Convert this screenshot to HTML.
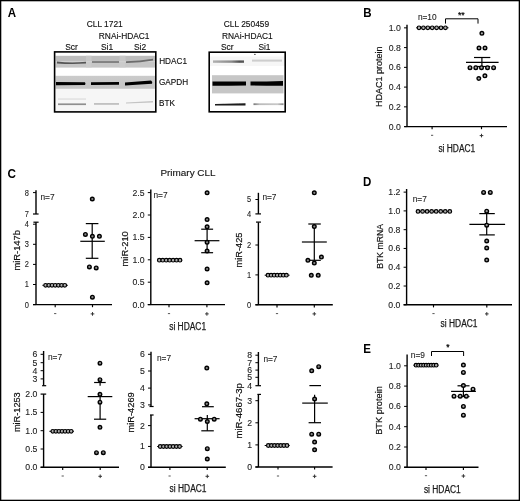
<!DOCTYPE html>
<html><head><meta charset="utf-8"><style>
html,body{margin:0;padding:0;background:#fff;width:520px;height:501px;overflow:hidden;font-family:"Liberation Sans", sans-serif;}
svg{display:block;filter:blur(0.3px);}
</style></head><body>
<svg width="520" height="501" viewBox="0 0 520 501" font-family='"Liberation Sans", sans-serif'>
<rect x="0" y="0" width="520" height="501" fill="#fff"/>
<text transform="translate(7.7,17.4) scale(0.93,1)" x="0" y="0" font-size="12.4" text-anchor="start" font-weight="bold" fill="#000" >A</text>
<text transform="translate(363.3,17.3) scale(0.93,1)" x="0" y="0" font-size="12.4" text-anchor="start" font-weight="bold" fill="#000" >B</text>
<text transform="translate(7.6,178.1) scale(0.93,1)" x="0" y="0" font-size="12.6" text-anchor="start" font-weight="bold" fill="#000" >C</text>
<text transform="translate(363.0,186.4) scale(0.93,1)" x="0" y="0" font-size="12.4" text-anchor="start" font-weight="bold" fill="#000" >D</text>
<text transform="translate(363.3,353.3) scale(0.93,1)" x="0" y="0" font-size="12.4" text-anchor="start" font-weight="bold" fill="#000" >E</text>
<text x="86.7" y="26.7" font-size="8.4" text-anchor="start" font-weight="normal" fill="#111" stroke="#111" stroke-width="0.13" >CLL 1721</text>
<text x="98.8" y="38.6" font-size="8.4" text-anchor="start" font-weight="normal" fill="#111" stroke="#111" stroke-width="0.13" >RNAi-HDAC1</text>
<text x="65.2" y="50.4" font-size="8.4" text-anchor="start" font-weight="normal" fill="#111" stroke="#111" stroke-width="0.13" >Scr</text>
<text x="101" y="50.4" font-size="8.4" text-anchor="start" font-weight="normal" fill="#111" stroke="#111" stroke-width="0.13" >Si1</text>
<text x="134" y="50.4" font-size="8.4" text-anchor="start" font-weight="normal" fill="#111" stroke="#111" stroke-width="0.13" >Si2</text>
<defs><linearGradient id="g1" x1="0" y1="0" x2="0" y2="1"><stop offset="0" stop-color="#ececec"/><stop offset="0.15" stop-color="#b2b2b2"/><stop offset="0.5" stop-color="#b8b8b8"/><stop offset="0.6" stop-color="#c4c4c4"/><stop offset="1" stop-color="#c8c8c8"/></linearGradient><linearGradient id="g2" x1="0" y1="0" x2="0" y2="1"><stop offset="0" stop-color="#cbcbcb"/><stop offset="1" stop-color="#c4c4c4"/></linearGradient><filter id="bl" x="-10%" y="-50%" width="120%" height="200%"><feGaussianBlur stdDeviation="0.45"/></filter></defs>
<rect x="55.5" y="55.8" width="99.5" height="5.8" fill="#bdbdbd"/>
<rect x="55.5" y="61.6" width="99.5" height="6" fill="#c6c6c6"/>
<rect x="86" y="55.5" width="5.5" height="12.3" fill="#cfcfcf" opacity="0.55"/>
<rect x="119.5" y="55.5" width="6" height="12.3" fill="#cfcfcf" opacity="0.55"/>
<rect x="55.5" y="75.8" width="99.5" height="13" fill="url(#g2)"/>
<rect x="55.5" y="89" width="99.5" height="22" fill="#f6f6f6"/>
<g filter="url(#bl)">
<path d="M57,61.6 Q71,63.2 86,61.8 L86,63.6 Q71,64.6 57,63.4 Z" fill="#555"/>
<path d="M92,61.2 L119,61.2 L119,62.8 L92,62.8 Z" fill="#707070"/>
<path d="M126,61.2 Q140,61.2 153,58.8 L153,60.6 Q140,63 126,62.9 Z" fill="#6c6c6c"/>
<path d="M56,82 L85,82.2 Q86,83.6 85,85 L56,85.2 Z" fill="#050505"/>
<path d="M91,82.3 L119,82 L119,84.8 L91,85 Z" fill="#050505"/>
<path d="M125,82.6 L151,80.6 Q153,82.2 152,83.8 L125,85.4 Z" fill="#050505"/>
<rect x="58" y="103.4" width="28" height="1.7" fill="#8f8f8f"/>
<rect x="58" y="98.3" width="28" height="1.5" fill="#e2e2e2"/>
<rect x="94" y="103.2" width="25" height="1.5" fill="#b5b5b5"/>
<path d="M126,102.4 L153,101 L153,102.4 L126,103.6 Z" fill="#c4c4c4"/>
</g>
<rect x="54.6" y="51.9" width="101.2" height="60" fill="none" stroke="#000" stroke-width="1.6"/>
<text x="159.2" y="63.9" font-size="8.2" text-anchor="start" font-weight="normal" fill="#111" stroke="#111" stroke-width="0.13" >HDAC1</text>
<text x="159.0" y="84.5" font-size="8.2" text-anchor="start" font-weight="normal" fill="#111" stroke="#111" stroke-width="0.13" >GAPDH</text>
<text x="159.0" y="106" font-size="8.2" text-anchor="start" font-weight="normal" fill="#111" stroke="#111" stroke-width="0.13" >BTK</text>
<text x="223.8" y="26.5" font-size="8.4" text-anchor="start" font-weight="normal" fill="#111" stroke="#111" stroke-width="0.13" >CLL 250459</text>
<text x="222" y="38.7" font-size="8.4" text-anchor="start" font-weight="normal" fill="#111" stroke="#111" stroke-width="0.13" >RNAi-HDAC1</text>
<text x="221" y="50.4" font-size="8.4" text-anchor="start" font-weight="normal" fill="#111" stroke="#111" stroke-width="0.13" >Scr</text>
<text x="258.4" y="50.4" font-size="8.4" text-anchor="start" font-weight="normal" fill="#111" stroke="#111" stroke-width="0.13" >Si1</text>
<rect x="210" y="56.5" width="75" height="9.5" fill="#f6f6f6"/>
<rect x="212" y="75.2" width="71.5" height="18.2" fill="#c6c6c6"/>
<defs><linearGradient id="h2" x1="0" y1="0" x2="1" y2="0"><stop offset="0" stop-color="#b0b0b0"/><stop offset="0.6" stop-color="#8a8a8a"/><stop offset="0.85" stop-color="#505050"/><stop offset="1" stop-color="#5a5a5a"/></linearGradient><linearGradient id="b2" x1="0" y1="0" x2="1" y2="0"><stop offset="0" stop-color="#777"/><stop offset="0.2" stop-color="#bbb"/><stop offset="0.8" stop-color="#c8c8c8"/><stop offset="1" stop-color="#888"/></linearGradient></defs>
<g filter="url(#bl)">
<rect x="213" y="60.4" width="31" height="2.4" fill="url(#h2)"/>
<rect x="252" y="59.6" width="30" height="2" fill="#cdcdcd"/>
<path d="M212.5,81.4 Q229,81.6 246,81.6 L246,85.6 Q229,85.8 212.5,85.8 Z" fill="#050505"/>
<path d="M250.5,81.6 Q266,81.5 283,80.9 L283,85.7 Q266,85.7 250.5,85.5 Z" fill="#050505"/>
<path d="M215,104 L245.5,103.2 L245.5,105.6 L215,105.4 Z" fill="#1a1a1a"/>
<rect x="253.5" y="103.3" width="30" height="1.8" fill="url(#b2)"/>
</g>
<rect x="209.2" y="52.2" width="76" height="59.6" fill="none" stroke="#000" stroke-width="1.6"/>
<circle cx="254.9" cy="54.4" r="0.7" fill="#333"/>
<line x1="407" y1="24.7" x2="407" y2="126.6" stroke="#000" stroke-width="1.4"/>
<line x1="404.0" y1="27.849999999999994" x2="407" y2="27.849999999999994" stroke="#000" stroke-width="1.0"/>
<text transform="translate(400.8,30.799999999999994) scale(1.05,1)" x="0" y="0" font-size="8.3" text-anchor="end" font-weight="normal" fill="#222" stroke="#222" stroke-width="0.1" >1.0</text>
<line x1="404.0" y1="47.599999999999994" x2="407" y2="47.599999999999994" stroke="#000" stroke-width="1.0"/>
<text transform="translate(400.8,50.55) scale(1.05,1)" x="0" y="0" font-size="8.3" text-anchor="end" font-weight="normal" fill="#222" stroke="#222" stroke-width="0.1" >0.8</text>
<line x1="404.0" y1="67.35" x2="407" y2="67.35" stroke="#000" stroke-width="1.0"/>
<text transform="translate(400.8,70.3) scale(1.05,1)" x="0" y="0" font-size="8.3" text-anchor="end" font-weight="normal" fill="#222" stroke="#222" stroke-width="0.1" >0.6</text>
<line x1="404.0" y1="87.1" x2="407" y2="87.1" stroke="#000" stroke-width="1.0"/>
<text transform="translate(400.8,90.05) scale(1.05,1)" x="0" y="0" font-size="8.3" text-anchor="end" font-weight="normal" fill="#222" stroke="#222" stroke-width="0.1" >0.4</text>
<line x1="404.0" y1="106.85" x2="407" y2="106.85" stroke="#000" stroke-width="1.0"/>
<text transform="translate(400.8,109.8) scale(1.05,1)" x="0" y="0" font-size="8.3" text-anchor="end" font-weight="normal" fill="#222" stroke="#222" stroke-width="0.1" >0.2</text>
<line x1="404.0" y1="126.6" x2="407" y2="126.6" stroke="#000" stroke-width="1.0"/>
<text transform="translate(400.8,129.54999999999998) scale(1.05,1)" x="0" y="0" font-size="8.3" text-anchor="end" font-weight="normal" fill="#222" stroke="#222" stroke-width="0.1" >0.0</text>
<line x1="404.3" y1="126.6" x2="507" y2="126.6" stroke="#000" stroke-width="1.4"/>
<line x1="432.1" y1="126.6" x2="432.1" y2="129.2" stroke="#000" stroke-width="1.15"/>
<line x1="481.5" y1="126.6" x2="481.5" y2="129.2" stroke="#000" stroke-width="1.15"/>
<line x1="431.0" y1="135.3" x2="433.20000000000005" y2="135.3" stroke="#555" stroke-width="1.0"/>
<line x1="479.7" y1="135.60000000000002" x2="483.3" y2="135.60000000000002" stroke="#333" stroke-width="1.0"/>
<line x1="481.5" y1="133.8" x2="481.5" y2="137.4" stroke="#333" stroke-width="1.0"/>
<text x="438.4" y="152" font-size="10" text-anchor="start" font-weight="normal" fill="#1a1a1a" stroke="#1a1a1a" stroke-width="0.25" textLength="36.9" lengthAdjust="spacingAndGlyphs">si HDAC1</text>
<text transform="translate(382.1,76.7) rotate(-90)" x="0" y="0" font-size="9.5" text-anchor="middle" fill="#111" stroke="#111" stroke-width="0.2" textLength="60.6" lengthAdjust="spacingAndGlyphs">HDAC1 protein</text>
<text x="417.9" y="20.4" font-size="8.3" text-anchor="start" font-weight="normal" fill="#222" stroke="#222" stroke-width="0.1" >n=10</text>
<polyline points="445.5,23.6 445.5,18.8 478,18.8 478,23.6" fill="none" stroke="#000" stroke-width="1"/>
<text x="457.9" y="17.8" font-size="8.8" text-anchor="start" font-weight="normal" fill="#000" stroke="#000" stroke-width="0.2" >**</text>
<line x1="416.2" y1="27.8" x2="448.5" y2="27.8" stroke="#000" stroke-width="1.0"/>
<circle cx="419.0" cy="27.8" r="1.8" fill="#b0b0b0" stroke="#000" stroke-width="1.2"/>
<circle cx="423.4" cy="27.8" r="1.8" fill="#b0b0b0" stroke="#000" stroke-width="1.2"/>
<circle cx="427.8" cy="27.8" r="1.8" fill="#b0b0b0" stroke="#000" stroke-width="1.2"/>
<circle cx="432.2" cy="27.8" r="1.8" fill="#b0b0b0" stroke="#000" stroke-width="1.2"/>
<circle cx="436.59999999999997" cy="27.8" r="1.8" fill="#b0b0b0" stroke="#000" stroke-width="1.2"/>
<circle cx="441.0" cy="27.8" r="1.8" fill="#b0b0b0" stroke="#000" stroke-width="1.2"/>
<circle cx="445.4" cy="27.8" r="1.8" fill="#b0b0b0" stroke="#000" stroke-width="1.2"/>
<line x1="481.9" y1="57.5" x2="481.9" y2="66.5" stroke="#000" stroke-width="1.2"/>
<line x1="466" y1="62.4" x2="498.6" y2="62.4" stroke="#000" stroke-width="1.2"/>
<line x1="474" y1="57.5" x2="490.3" y2="57.5" stroke="#000" stroke-width="1.2"/>
<line x1="474" y1="66.5" x2="490.3" y2="66.5" stroke="#000" stroke-width="1.2"/>
<circle cx="481.9" cy="33.3" r="1.8" fill="#aaa" stroke="#000" stroke-width="1.4"/>
<circle cx="479" cy="48" r="1.8" fill="#aaa" stroke="#000" stroke-width="1.4"/>
<circle cx="485" cy="48" r="1.8" fill="#aaa" stroke="#000" stroke-width="1.4"/>
<circle cx="470" cy="67.7" r="1.8" fill="#aaa" stroke="#000" stroke-width="1.4"/>
<circle cx="475.8" cy="67.7" r="1.8" fill="#aaa" stroke="#000" stroke-width="1.4"/>
<circle cx="481.5" cy="67.7" r="1.8" fill="#aaa" stroke="#000" stroke-width="1.4"/>
<circle cx="487.5" cy="67.7" r="1.8" fill="#aaa" stroke="#000" stroke-width="1.4"/>
<circle cx="493.6" cy="67.7" r="1.8" fill="#aaa" stroke="#000" stroke-width="1.4"/>
<circle cx="478.8" cy="78.5" r="1.8" fill="#aaa" stroke="#000" stroke-width="1.4"/>
<circle cx="484.9" cy="75.8" r="1.8" fill="#aaa" stroke="#000" stroke-width="1.4"/>
<text x="160.4" y="175.9" font-size="9.5" text-anchor="start" font-weight="normal" fill="#111" stroke="#111" stroke-width="0.12" textLength="55.2" lengthAdjust="spacingAndGlyphs">Primary CLL</text>
<line x1="36" y1="190.2" x2="36" y2="214" stroke="#000" stroke-width="1.4"/>
<line x1="36" y1="222.2" x2="36" y2="304.6" stroke="#000" stroke-width="1.4"/>
<line x1="33.0" y1="192.6" x2="36" y2="192.6" stroke="#000" stroke-width="1.0"/>
<text transform="translate(28.8,195.54999999999998) scale(0.9,1)" x="0" y="0" font-size="8.3" text-anchor="end" font-weight="normal" fill="#222" stroke="#222" stroke-width="0.1" >8</text>
<line x1="33.0" y1="214" x2="38.6" y2="214" stroke="#000" stroke-width="1.2"/>
<text transform="translate(28.8,216.95) scale(0.9,1)" x="0" y="0" font-size="8.3" text-anchor="end" font-weight="normal" fill="#222" stroke="#222" stroke-width="0.1" >7</text>
<line x1="33.4" y1="222.2" x2="38.6" y2="222.2" stroke="#000" stroke-width="1.2"/>
<line x1="33.0" y1="224.20000000000002" x2="36" y2="224.20000000000002" stroke="#000" stroke-width="1.0"/>
<text transform="translate(28.8,227.15) scale(0.9,1)" x="0" y="0" font-size="8.3" text-anchor="end" font-weight="normal" fill="#222" stroke="#222" stroke-width="0.1" >4</text>
<line x1="33.0" y1="244.3" x2="36" y2="244.3" stroke="#000" stroke-width="1.0"/>
<text transform="translate(28.8,247.25) scale(0.9,1)" x="0" y="0" font-size="8.3" text-anchor="end" font-weight="normal" fill="#222" stroke="#222" stroke-width="0.1" >3</text>
<line x1="33.0" y1="264.40000000000003" x2="36" y2="264.40000000000003" stroke="#000" stroke-width="1.0"/>
<text transform="translate(28.8,267.35) scale(0.9,1)" x="0" y="0" font-size="8.3" text-anchor="end" font-weight="normal" fill="#222" stroke="#222" stroke-width="0.1" >2</text>
<line x1="33.0" y1="284.5" x2="36" y2="284.5" stroke="#000" stroke-width="1.0"/>
<text transform="translate(28.8,287.45) scale(0.9,1)" x="0" y="0" font-size="8.3" text-anchor="end" font-weight="normal" fill="#222" stroke="#222" stroke-width="0.1" >1</text>
<line x1="33.0" y1="304.6" x2="36" y2="304.6" stroke="#000" stroke-width="1.0"/>
<text transform="translate(28.8,307.55) scale(0.9,1)" x="0" y="0" font-size="8.3" text-anchor="end" font-weight="normal" fill="#222" stroke="#222" stroke-width="0.1" >0</text>
<line x1="33" y1="304.6" x2="112" y2="304.6" stroke="#000" stroke-width="1.4"/>
<line x1="55.2" y1="304.6" x2="55.2" y2="307.20000000000005" stroke="#000" stroke-width="1.15"/>
<line x1="92.5" y1="304.6" x2="92.5" y2="307.20000000000005" stroke="#000" stroke-width="1.15"/>
<line x1="54.1" y1="313.6" x2="56.300000000000004" y2="313.6" stroke="#555" stroke-width="1.0"/>
<line x1="90.7" y1="313.90000000000003" x2="94.3" y2="313.90000000000003" stroke="#333" stroke-width="1.0"/>
<line x1="92.5" y1="312.1" x2="92.5" y2="315.70000000000005" stroke="#333" stroke-width="1.0"/>
<text x="40.5" y="199.6" font-size="8.3" text-anchor="start" font-weight="normal" fill="#222" stroke="#222" stroke-width="0.1" >n=7</text>
<text transform="translate(20.3,250.3) rotate(-90)" x="0" y="0" font-size="9.5" text-anchor="middle" fill="#111" stroke="#111" stroke-width="0.2" textLength="40.6" lengthAdjust="spacingAndGlyphs">miR-147b</text>
<line x1="42.4" y1="285.3" x2="67.8" y2="285.3" stroke="#000" stroke-width="1.0"/>
<circle cx="45.6" cy="285.3" r="1.8" fill="#b0b0b0" stroke="#000" stroke-width="1.2"/>
<circle cx="48.8" cy="285.3" r="1.8" fill="#b0b0b0" stroke="#000" stroke-width="1.2"/>
<circle cx="52.0" cy="285.3" r="1.8" fill="#b0b0b0" stroke="#000" stroke-width="1.2"/>
<circle cx="55.2" cy="285.3" r="1.8" fill="#b0b0b0" stroke="#000" stroke-width="1.2"/>
<circle cx="58.4" cy="285.3" r="1.8" fill="#b0b0b0" stroke="#000" stroke-width="1.2"/>
<circle cx="61.599999999999994" cy="285.3" r="1.8" fill="#b0b0b0" stroke="#000" stroke-width="1.2"/>
<circle cx="64.8" cy="285.3" r="1.8" fill="#b0b0b0" stroke="#000" stroke-width="1.2"/>
<line x1="92.2" y1="223.6" x2="92.2" y2="258.3" stroke="#000" stroke-width="1.2"/>
<line x1="80.3" y1="241.3" x2="104.8" y2="241.3" stroke="#000" stroke-width="1.2"/>
<line x1="85.8" y1="223.6" x2="98.4" y2="223.6" stroke="#000" stroke-width="1.2"/>
<line x1="85.8" y1="258.3" x2="98.4" y2="258.3" stroke="#000" stroke-width="1.2"/>
<circle cx="92.3" cy="199" r="1.8" fill="#888" stroke="#000" stroke-width="1.4"/>
<circle cx="85.4" cy="234.4" r="1.8" fill="#888" stroke="#000" stroke-width="1.4"/>
<circle cx="92.4" cy="236.3" r="1.8" fill="#888" stroke="#000" stroke-width="1.4"/>
<circle cx="99.4" cy="236.3" r="1.8" fill="#888" stroke="#000" stroke-width="1.4"/>
<circle cx="89.4" cy="266.9" r="1.8" fill="#888" stroke="#000" stroke-width="1.4"/>
<circle cx="96.2" cy="267.9" r="1.8" fill="#888" stroke="#000" stroke-width="1.4"/>
<circle cx="92.4" cy="297.2" r="1.8" fill="#888" stroke="#000" stroke-width="1.4"/>
<line x1="150.8" y1="189.6" x2="150.8" y2="304.6" stroke="#000" stroke-width="1.4"/>
<line x1="147.8" y1="192.60000000000002" x2="150.8" y2="192.60000000000002" stroke="#000" stroke-width="1.0"/>
<text transform="translate(144.60000000000002,195.55) scale(1.05,1)" x="0" y="0" font-size="8.3" text-anchor="end" font-weight="normal" fill="#222" stroke="#222" stroke-width="0.1" >2.5</text>
<line x1="147.8" y1="215.00000000000003" x2="150.8" y2="215.00000000000003" stroke="#000" stroke-width="1.0"/>
<text transform="translate(144.60000000000002,217.95000000000002) scale(1.05,1)" x="0" y="0" font-size="8.3" text-anchor="end" font-weight="normal" fill="#222" stroke="#222" stroke-width="0.1" >2.0</text>
<line x1="147.8" y1="237.40000000000003" x2="150.8" y2="237.40000000000003" stroke="#000" stroke-width="1.0"/>
<text transform="translate(144.60000000000002,240.35000000000002) scale(1.05,1)" x="0" y="0" font-size="8.3" text-anchor="end" font-weight="normal" fill="#222" stroke="#222" stroke-width="0.1" >1.5</text>
<line x1="147.8" y1="259.8" x2="150.8" y2="259.8" stroke="#000" stroke-width="1.0"/>
<text transform="translate(144.60000000000002,262.75) scale(1.05,1)" x="0" y="0" font-size="8.3" text-anchor="end" font-weight="normal" fill="#222" stroke="#222" stroke-width="0.1" >1.0</text>
<line x1="147.8" y1="282.20000000000005" x2="150.8" y2="282.20000000000005" stroke="#000" stroke-width="1.0"/>
<text transform="translate(144.60000000000002,285.15000000000003) scale(1.05,1)" x="0" y="0" font-size="8.3" text-anchor="end" font-weight="normal" fill="#222" stroke="#222" stroke-width="0.1" >0.5</text>
<line x1="147.8" y1="304.6" x2="150.8" y2="304.6" stroke="#000" stroke-width="1.0"/>
<text transform="translate(144.60000000000002,307.55) scale(1.05,1)" x="0" y="0" font-size="8.3" text-anchor="end" font-weight="normal" fill="#222" stroke="#222" stroke-width="0.1" >0.0</text>
<line x1="147.8" y1="304.6" x2="225" y2="304.6" stroke="#000" stroke-width="1.4"/>
<line x1="169" y1="304.6" x2="169" y2="307.20000000000005" stroke="#000" stroke-width="1.15"/>
<line x1="206.9" y1="304.6" x2="206.9" y2="307.20000000000005" stroke="#000" stroke-width="1.15"/>
<line x1="167.9" y1="313.6" x2="170.1" y2="313.6" stroke="#555" stroke-width="1.0"/>
<line x1="205.1" y1="313.90000000000003" x2="208.70000000000002" y2="313.90000000000003" stroke="#333" stroke-width="1.0"/>
<line x1="206.9" y1="312.1" x2="206.9" y2="315.70000000000005" stroke="#333" stroke-width="1.0"/>
<text x="153.5" y="198" font-size="8.3" text-anchor="start" font-weight="normal" fill="#222" stroke="#222" stroke-width="0.1" >n=7</text>
<text transform="translate(127.5,248.8) rotate(-90)" x="0" y="0" font-size="9.5" text-anchor="middle" fill="#111" stroke="#111" stroke-width="0.2" textLength="35.2" lengthAdjust="spacingAndGlyphs">miR-210</text>
<text x="169.2" y="330" font-size="10" text-anchor="start" font-weight="normal" fill="#1a1a1a" stroke="#1a1a1a" stroke-width="0.25" textLength="36.9" lengthAdjust="spacingAndGlyphs">si HDAC1</text>
<line x1="157.0" y1="260.2" x2="182.2" y2="260.2" stroke="#000" stroke-width="1.0"/>
<circle cx="159.3" cy="260.2" r="1.8" fill="#b0b0b0" stroke="#000" stroke-width="1.2"/>
<circle cx="162.75" cy="260.2" r="1.8" fill="#b0b0b0" stroke="#000" stroke-width="1.2"/>
<circle cx="166.20000000000002" cy="260.2" r="1.8" fill="#b0b0b0" stroke="#000" stroke-width="1.2"/>
<circle cx="169.65" cy="260.2" r="1.8" fill="#b0b0b0" stroke="#000" stroke-width="1.2"/>
<circle cx="173.1" cy="260.2" r="1.8" fill="#b0b0b0" stroke="#000" stroke-width="1.2"/>
<circle cx="176.55" cy="260.2" r="1.8" fill="#b0b0b0" stroke="#000" stroke-width="1.2"/>
<circle cx="180.0" cy="260.2" r="1.8" fill="#b0b0b0" stroke="#000" stroke-width="1.2"/>
<line x1="207.1" y1="229.2" x2="207.1" y2="252.7" stroke="#000" stroke-width="1.2"/>
<line x1="194.6" y1="240.7" x2="219.4" y2="240.7" stroke="#000" stroke-width="1.2"/>
<line x1="201.2" y1="229.2" x2="213.1" y2="229.2" stroke="#000" stroke-width="1.2"/>
<line x1="201.2" y1="252.7" x2="213.1" y2="252.7" stroke="#000" stroke-width="1.2"/>
<circle cx="207.1" cy="192.8" r="1.8" fill="#888" stroke="#000" stroke-width="1.4"/>
<circle cx="207.1" cy="219.6" r="1.8" fill="#888" stroke="#000" stroke-width="1.4"/>
<circle cx="207.1" cy="226.8" r="1.8" fill="#888" stroke="#000" stroke-width="1.4"/>
<circle cx="207.1" cy="242.3" r="1.8" fill="#888" stroke="#000" stroke-width="1.4"/>
<circle cx="207.1" cy="251" r="1.8" fill="#888" stroke="#000" stroke-width="1.4"/>
<circle cx="207.1" cy="269" r="1.8" fill="#888" stroke="#000" stroke-width="1.4"/>
<circle cx="207.1" cy="282.8" r="1.8" fill="#888" stroke="#000" stroke-width="1.4"/>
<line x1="258.4" y1="192.8" x2="258.4" y2="213.9" stroke="#000" stroke-width="1.4"/>
<line x1="258.4" y1="222.3" x2="258.4" y2="304.8" stroke="#000" stroke-width="1.4"/>
<line x1="255.39999999999998" y1="199.5" x2="258.4" y2="199.5" stroke="#000" stroke-width="1.0"/>
<text transform="translate(251.2,202.45) scale(0.9,1)" x="0" y="0" font-size="8.3" text-anchor="end" font-weight="normal" fill="#222" stroke="#222" stroke-width="0.1" >5</text>
<line x1="255.39999999999998" y1="213.9" x2="261.0" y2="213.9" stroke="#000" stroke-width="1.2"/>
<text transform="translate(251.2,216.85) scale(0.9,1)" x="0" y="0" font-size="8.3" text-anchor="end" font-weight="normal" fill="#222" stroke="#222" stroke-width="0.1" >4</text>
<line x1="255.99999999999997" y1="222.1" x2="261.0" y2="222.1" stroke="#000" stroke-width="1.2"/>
<line x1="255.39999999999998" y1="245.0" x2="258.4" y2="245.0" stroke="#000" stroke-width="1.0"/>
<text transform="translate(251.2,247.95) scale(0.9,1)" x="0" y="0" font-size="8.3" text-anchor="end" font-weight="normal" fill="#222" stroke="#222" stroke-width="0.1" >2</text>
<line x1="255.39999999999998" y1="274.90000000000003" x2="258.4" y2="274.90000000000003" stroke="#000" stroke-width="1.0"/>
<text transform="translate(251.2,277.85) scale(0.9,1)" x="0" y="0" font-size="8.3" text-anchor="end" font-weight="normal" fill="#222" stroke="#222" stroke-width="0.1" >1</text>
<line x1="255.39999999999998" y1="304.8" x2="258.4" y2="304.8" stroke="#000" stroke-width="1.0"/>
<text transform="translate(251.2,307.75) scale(0.9,1)" x="0" y="0" font-size="8.3" text-anchor="end" font-weight="normal" fill="#222" stroke="#222" stroke-width="0.1" >0</text>
<line x1="255.4" y1="304.8" x2="332.8" y2="304.8" stroke="#000" stroke-width="1.4"/>
<line x1="277" y1="304.8" x2="277" y2="307.40000000000003" stroke="#000" stroke-width="1.15"/>
<line x1="314.3" y1="304.8" x2="314.3" y2="307.40000000000003" stroke="#000" stroke-width="1.15"/>
<line x1="275.9" y1="313.6" x2="278.1" y2="313.6" stroke="#555" stroke-width="1.0"/>
<line x1="312.5" y1="313.90000000000003" x2="316.1" y2="313.90000000000003" stroke="#333" stroke-width="1.0"/>
<line x1="314.3" y1="312.1" x2="314.3" y2="315.70000000000005" stroke="#333" stroke-width="1.0"/>
<text x="262.4" y="200" font-size="8.3" text-anchor="start" font-weight="normal" fill="#222" stroke="#222" stroke-width="0.1" >n=7</text>
<text transform="translate(241.6,250) rotate(-90)" x="0" y="0" font-size="9.5" text-anchor="middle" fill="#111" stroke="#111" stroke-width="0.2" textLength="34.8" lengthAdjust="spacingAndGlyphs">miR-425</text>
<line x1="264.7" y1="275.2" x2="289.6" y2="275.2" stroke="#000" stroke-width="1.0"/>
<circle cx="268.0" cy="275.2" r="1.8" fill="#b0b0b0" stroke="#000" stroke-width="1.2"/>
<circle cx="271.06666666666666" cy="275.2" r="1.8" fill="#b0b0b0" stroke="#000" stroke-width="1.2"/>
<circle cx="274.1333333333333" cy="275.2" r="1.8" fill="#b0b0b0" stroke="#000" stroke-width="1.2"/>
<circle cx="277.2" cy="275.2" r="1.8" fill="#b0b0b0" stroke="#000" stroke-width="1.2"/>
<circle cx="280.26666666666665" cy="275.2" r="1.8" fill="#b0b0b0" stroke="#000" stroke-width="1.2"/>
<circle cx="283.3333333333333" cy="275.2" r="1.8" fill="#b0b0b0" stroke="#000" stroke-width="1.2"/>
<circle cx="286.4" cy="275.2" r="1.8" fill="#b0b0b0" stroke="#000" stroke-width="1.2"/>
<line x1="314.3" y1="224" x2="314.3" y2="260.3" stroke="#000" stroke-width="1.2"/>
<line x1="301.9" y1="242" x2="326.8" y2="242" stroke="#000" stroke-width="1.2"/>
<line x1="308.3" y1="224" x2="320.8" y2="224" stroke="#000" stroke-width="1.2"/>
<line x1="308.3" y1="260.3" x2="320.8" y2="260.3" stroke="#000" stroke-width="1.2"/>
<circle cx="314.3" cy="192.8" r="1.8" fill="#888" stroke="#000" stroke-width="1.4"/>
<circle cx="314.3" cy="226.6" r="1.8" fill="#888" stroke="#000" stroke-width="1.4"/>
<circle cx="307.9" cy="260.3" r="1.8" fill="#888" stroke="#000" stroke-width="1.4"/>
<circle cx="321.4" cy="257.1" r="1.8" fill="#888" stroke="#000" stroke-width="1.4"/>
<circle cx="314.3" cy="263.1" r="1.8" fill="#888" stroke="#000" stroke-width="1.4"/>
<circle cx="311.3" cy="275.3" r="1.8" fill="#888" stroke="#000" stroke-width="1.4"/>
<circle cx="318.2" cy="275.3" r="1.8" fill="#888" stroke="#000" stroke-width="1.4"/>
<line x1="406.6" y1="189" x2="406.6" y2="304.8" stroke="#000" stroke-width="1.4"/>
<line x1="403.6" y1="192.12" x2="406.6" y2="192.12" stroke="#000" stroke-width="1.0"/>
<text transform="translate(400.40000000000003,195.07) scale(1.05,1)" x="0" y="0" font-size="8.3" text-anchor="end" font-weight="normal" fill="#222" stroke="#222" stroke-width="0.1" >1.2</text>
<line x1="403.6" y1="210.9" x2="406.6" y2="210.9" stroke="#000" stroke-width="1.0"/>
<text transform="translate(400.40000000000003,213.85) scale(1.05,1)" x="0" y="0" font-size="8.3" text-anchor="end" font-weight="normal" fill="#222" stroke="#222" stroke-width="0.1" >1.0</text>
<line x1="403.6" y1="229.68" x2="406.6" y2="229.68" stroke="#000" stroke-width="1.0"/>
<text transform="translate(400.40000000000003,232.63) scale(1.05,1)" x="0" y="0" font-size="8.3" text-anchor="end" font-weight="normal" fill="#222" stroke="#222" stroke-width="0.1" >0.8</text>
<line x1="403.6" y1="248.46" x2="406.6" y2="248.46" stroke="#000" stroke-width="1.0"/>
<text transform="translate(400.40000000000003,251.41) scale(1.05,1)" x="0" y="0" font-size="8.3" text-anchor="end" font-weight="normal" fill="#222" stroke="#222" stroke-width="0.1" >0.6</text>
<line x1="403.6" y1="267.24" x2="406.6" y2="267.24" stroke="#000" stroke-width="1.0"/>
<text transform="translate(400.40000000000003,270.19) scale(1.05,1)" x="0" y="0" font-size="8.3" text-anchor="end" font-weight="normal" fill="#222" stroke="#222" stroke-width="0.1" >0.4</text>
<line x1="403.6" y1="286.02" x2="406.6" y2="286.02" stroke="#000" stroke-width="1.0"/>
<text transform="translate(400.40000000000003,288.96999999999997) scale(1.05,1)" x="0" y="0" font-size="8.3" text-anchor="end" font-weight="normal" fill="#222" stroke="#222" stroke-width="0.1" >0.2</text>
<line x1="403.6" y1="304.8" x2="406.6" y2="304.8" stroke="#000" stroke-width="1.0"/>
<text transform="translate(400.40000000000003,307.75) scale(1.05,1)" x="0" y="0" font-size="8.3" text-anchor="end" font-weight="normal" fill="#222" stroke="#222" stroke-width="0.1" >0.0</text>
<line x1="403.6" y1="304.8" x2="512" y2="304.8" stroke="#000" stroke-width="1.4"/>
<line x1="433.5" y1="304.8" x2="433.5" y2="307.40000000000003" stroke="#000" stroke-width="1.15"/>
<line x1="486.8" y1="304.8" x2="486.8" y2="307.40000000000003" stroke="#000" stroke-width="1.15"/>
<line x1="432.4" y1="313.6" x2="434.6" y2="313.6" stroke="#555" stroke-width="1.0"/>
<line x1="485.0" y1="313.90000000000003" x2="488.6" y2="313.90000000000003" stroke="#333" stroke-width="1.0"/>
<line x1="486.8" y1="312.1" x2="486.8" y2="315.70000000000005" stroke="#333" stroke-width="1.0"/>
<text x="412.7" y="202.1" font-size="8.3" text-anchor="start" font-weight="normal" fill="#222" stroke="#222" stroke-width="0.1" >n=7</text>
<text transform="translate(383.2,246.4) rotate(-90)" x="0" y="0" font-size="9.5" text-anchor="middle" fill="#111" stroke="#111" stroke-width="0.2" textLength="44.6" lengthAdjust="spacingAndGlyphs">BTK mRNA</text>
<text x="440.6" y="326.9" font-size="10" text-anchor="start" font-weight="normal" fill="#1a1a1a" stroke="#1a1a1a" stroke-width="0.25" textLength="36.9" lengthAdjust="spacingAndGlyphs">si HDAC1</text>
<line x1="416.2" y1="211.4" x2="451.5" y2="211.4" stroke="#000" stroke-width="1.0"/>
<circle cx="418.0" cy="211.4" r="1.8" fill="#b0b0b0" stroke="#000" stroke-width="1.2"/>
<circle cx="422.54285714285714" cy="211.4" r="1.8" fill="#b0b0b0" stroke="#000" stroke-width="1.2"/>
<circle cx="427.0857142857143" cy="211.4" r="1.8" fill="#b0b0b0" stroke="#000" stroke-width="1.2"/>
<circle cx="431.62857142857143" cy="211.4" r="1.8" fill="#b0b0b0" stroke="#000" stroke-width="1.2"/>
<circle cx="436.1714285714286" cy="211.4" r="1.8" fill="#b0b0b0" stroke="#000" stroke-width="1.2"/>
<circle cx="440.7142857142857" cy="211.4" r="1.8" fill="#b0b0b0" stroke="#000" stroke-width="1.2"/>
<circle cx="445.25714285714287" cy="211.4" r="1.8" fill="#b0b0b0" stroke="#000" stroke-width="1.2"/>
<circle cx="449.8" cy="211.4" r="1.8" fill="#b0b0b0" stroke="#000" stroke-width="1.2"/>
<line x1="486.7" y1="213.6" x2="486.7" y2="234.9" stroke="#000" stroke-width="1.2"/>
<line x1="469.4" y1="224.3" x2="505.1" y2="224.3" stroke="#000" stroke-width="1.2"/>
<line x1="479.3" y1="213.6" x2="494.8" y2="213.6" stroke="#000" stroke-width="1.2"/>
<line x1="479.3" y1="234.9" x2="494.8" y2="234.9" stroke="#000" stroke-width="1.2"/>
<circle cx="483.6" cy="192.4" r="1.8" fill="#999" stroke="#000" stroke-width="1.4"/>
<circle cx="490.3" cy="192.4" r="1.8" fill="#999" stroke="#000" stroke-width="1.4"/>
<circle cx="486.7" cy="211.2" r="1.8" fill="#999" stroke="#000" stroke-width="1.4"/>
<circle cx="486.7" cy="225.2" r="1.8" fill="#999" stroke="#000" stroke-width="1.4"/>
<circle cx="486.7" cy="241" r="1.8" fill="#999" stroke="#000" stroke-width="1.4"/>
<circle cx="486.7" cy="248" r="1.8" fill="#999" stroke="#000" stroke-width="1.4"/>
<circle cx="486.7" cy="260.1" r="1.8" fill="#999" stroke="#000" stroke-width="1.4"/>
<line x1="43.6" y1="351" x2="43.6" y2="385.7" stroke="#000" stroke-width="1.4"/>
<line x1="43.6" y1="394.1" x2="43.6" y2="467.3" stroke="#000" stroke-width="1.4"/>
<line x1="40.6" y1="354.3" x2="43.6" y2="354.3" stroke="#000" stroke-width="1.0"/>
<text transform="translate(37.4,357.25) scale(1.05,1)" x="0" y="0" font-size="8.3" text-anchor="end" font-weight="normal" fill="#222" stroke="#222" stroke-width="0.1" >6</text>
<line x1="40.6" y1="362.7" x2="43.6" y2="362.7" stroke="#000" stroke-width="1.0"/>
<text transform="translate(37.4,365.65) scale(1.05,1)" x="0" y="0" font-size="8.3" text-anchor="end" font-weight="normal" fill="#222" stroke="#222" stroke-width="0.1" >5</text>
<line x1="40.6" y1="370.7" x2="43.6" y2="370.7" stroke="#000" stroke-width="1.0"/>
<text transform="translate(37.4,373.65) scale(1.05,1)" x="0" y="0" font-size="8.3" text-anchor="end" font-weight="normal" fill="#222" stroke="#222" stroke-width="0.1" >4</text>
<line x1="40.6" y1="378.9" x2="43.6" y2="378.9" stroke="#000" stroke-width="1.0"/>
<text transform="translate(37.4,381.84999999999997) scale(1.05,1)" x="0" y="0" font-size="8.3" text-anchor="end" font-weight="normal" fill="#222" stroke="#222" stroke-width="0.1" >3</text>
<line x1="42.1" y1="385.7" x2="46.2" y2="385.7" stroke="#000" stroke-width="1.2"/>
<line x1="40.6" y1="394.1" x2="46.2" y2="394.1" stroke="#000" stroke-width="1.2"/>
<text transform="translate(37.4,397.05) scale(1.05,1)" x="0" y="0" font-size="8.3" text-anchor="end" font-weight="normal" fill="#222" stroke="#222" stroke-width="0.1" >2.0</text>
<line x1="40.6" y1="412.4" x2="43.6" y2="412.4" stroke="#000" stroke-width="1.0"/>
<text transform="translate(37.4,415.34999999999997) scale(1.05,1)" x="0" y="0" font-size="8.3" text-anchor="end" font-weight="normal" fill="#222" stroke="#222" stroke-width="0.1" >1.5</text>
<line x1="40.6" y1="430.7" x2="43.6" y2="430.7" stroke="#000" stroke-width="1.0"/>
<text transform="translate(37.4,433.65) scale(1.05,1)" x="0" y="0" font-size="8.3" text-anchor="end" font-weight="normal" fill="#222" stroke="#222" stroke-width="0.1" >1.0</text>
<line x1="40.6" y1="449.0" x2="43.6" y2="449.0" stroke="#000" stroke-width="1.0"/>
<text transform="translate(37.4,451.95) scale(1.05,1)" x="0" y="0" font-size="8.3" text-anchor="end" font-weight="normal" fill="#222" stroke="#222" stroke-width="0.1" >0.5</text>
<line x1="40.6" y1="467.3" x2="43.6" y2="467.3" stroke="#000" stroke-width="1.0"/>
<text transform="translate(37.4,470.25) scale(1.05,1)" x="0" y="0" font-size="8.3" text-anchor="end" font-weight="normal" fill="#222" stroke="#222" stroke-width="0.1" >0.0</text>
<line x1="40.6" y1="467.3" x2="119" y2="467.3" stroke="#000" stroke-width="1.4"/>
<line x1="62.7" y1="467.3" x2="62.7" y2="469.90000000000003" stroke="#000" stroke-width="1.15"/>
<line x1="100.2" y1="467.3" x2="100.2" y2="469.90000000000003" stroke="#000" stroke-width="1.15"/>
<line x1="61.6" y1="476" x2="63.800000000000004" y2="476" stroke="#555" stroke-width="1.0"/>
<line x1="98.4" y1="476.3" x2="102.0" y2="476.3" stroke="#333" stroke-width="1.0"/>
<line x1="100.2" y1="474.5" x2="100.2" y2="478.1" stroke="#333" stroke-width="1.0"/>
<text x="48" y="360" font-size="8.3" text-anchor="start" font-weight="normal" fill="#222" stroke="#222" stroke-width="0.1" >n=7</text>
<text transform="translate(19.6,412.2) rotate(-90)" x="0" y="0" font-size="9.5" text-anchor="middle" fill="#111" stroke="#111" stroke-width="0.2" textLength="39.8" lengthAdjust="spacingAndGlyphs">miR-1253</text>
<line x1="49.4" y1="431.3" x2="73.9" y2="431.3" stroke="#000" stroke-width="1.0"/>
<circle cx="52.8" cy="431.3" r="1.8" fill="#b0b0b0" stroke="#000" stroke-width="1.2"/>
<circle cx="55.86666666666667" cy="431.3" r="1.8" fill="#b0b0b0" stroke="#000" stroke-width="1.2"/>
<circle cx="58.93333333333333" cy="431.3" r="1.8" fill="#b0b0b0" stroke="#000" stroke-width="1.2"/>
<circle cx="62.0" cy="431.3" r="1.8" fill="#b0b0b0" stroke="#000" stroke-width="1.2"/>
<circle cx="65.06666666666666" cy="431.3" r="1.8" fill="#b0b0b0" stroke="#000" stroke-width="1.2"/>
<circle cx="68.13333333333334" cy="431.3" r="1.8" fill="#b0b0b0" stroke="#000" stroke-width="1.2"/>
<circle cx="71.2" cy="431.3" r="1.8" fill="#b0b0b0" stroke="#000" stroke-width="1.2"/>
<line x1="100.1" y1="382.5" x2="100.1" y2="385.7" stroke="#000" stroke-width="1.2"/>
<line x1="100.1" y1="394.1" x2="100.1" y2="419.2" stroke="#000" stroke-width="1.2"/>
<line x1="87.7" y1="396.6" x2="112.3" y2="396.6" stroke="#000" stroke-width="1.2"/>
<line x1="94.1" y1="382.5" x2="105.7" y2="382.5" stroke="#000" stroke-width="1.2"/>
<line x1="94" y1="419.2" x2="106.2" y2="419.2" stroke="#000" stroke-width="1.2"/>
<circle cx="100" cy="363.2" r="1.8" fill="#888" stroke="#000" stroke-width="1.4"/>
<circle cx="100" cy="379.7" r="1.8" fill="#888" stroke="#000" stroke-width="1.4"/>
<circle cx="100" cy="394.3" r="1.8" fill="#888" stroke="#000" stroke-width="1.4"/>
<circle cx="100" cy="402.2" r="1.8" fill="#888" stroke="#000" stroke-width="1.4"/>
<circle cx="100" cy="427.3" r="1.8" fill="#888" stroke="#000" stroke-width="1.4"/>
<circle cx="96.5" cy="452.7" r="1.8" fill="#888" stroke="#000" stroke-width="1.4"/>
<circle cx="103.3" cy="452.7" r="1.8" fill="#888" stroke="#000" stroke-width="1.4"/>
<line x1="151" y1="351.7" x2="151" y2="406.5" stroke="#000" stroke-width="1.4"/>
<line x1="151" y1="415" x2="151" y2="467.3" stroke="#000" stroke-width="1.4"/>
<line x1="148.0" y1="354.3" x2="151" y2="354.3" stroke="#000" stroke-width="1.0"/>
<text transform="translate(144.8,357.25) scale(1.05,1)" x="0" y="0" font-size="8.3" text-anchor="end" font-weight="normal" fill="#222" stroke="#222" stroke-width="0.1" >6</text>
<line x1="148.0" y1="371" x2="151" y2="371" stroke="#000" stroke-width="1.0"/>
<text transform="translate(144.8,373.95) scale(1.05,1)" x="0" y="0" font-size="8.3" text-anchor="end" font-weight="normal" fill="#222" stroke="#222" stroke-width="0.1" >5</text>
<line x1="148.0" y1="388.1" x2="151" y2="388.1" stroke="#000" stroke-width="1.0"/>
<text transform="translate(144.8,391.05) scale(1.05,1)" x="0" y="0" font-size="8.3" text-anchor="end" font-weight="normal" fill="#222" stroke="#222" stroke-width="0.1" >4</text>
<line x1="148.0" y1="404.9" x2="151" y2="404.9" stroke="#000" stroke-width="1.0"/>
<text transform="translate(144.8,407.84999999999997) scale(1.05,1)" x="0" y="0" font-size="8.3" text-anchor="end" font-weight="normal" fill="#222" stroke="#222" stroke-width="0.1" >3</text>
<line x1="149.5" y1="406.5" x2="153.6" y2="406.5" stroke="#000" stroke-width="1.2"/>
<line x1="150" y1="415" x2="153.6" y2="415" stroke="#000" stroke-width="1.2"/>
<line x1="148.0" y1="425.6" x2="151" y2="425.6" stroke="#000" stroke-width="1.0"/>
<text transform="translate(144.8,428.55) scale(1.05,1)" x="0" y="0" font-size="8.3" text-anchor="end" font-weight="normal" fill="#222" stroke="#222" stroke-width="0.1" >2</text>
<line x1="148.0" y1="446.45" x2="151" y2="446.45" stroke="#000" stroke-width="1.0"/>
<text transform="translate(144.8,449.4) scale(1.05,1)" x="0" y="0" font-size="8.3" text-anchor="end" font-weight="normal" fill="#222" stroke="#222" stroke-width="0.1" >1</text>
<line x1="148.0" y1="467.3" x2="151" y2="467.3" stroke="#000" stroke-width="1.0"/>
<text transform="translate(144.8,470.25) scale(1.05,1)" x="0" y="0" font-size="8.3" text-anchor="end" font-weight="normal" fill="#222" stroke="#222" stroke-width="0.1" >0</text>
<line x1="148" y1="467.3" x2="225.8" y2="467.3" stroke="#000" stroke-width="1.4"/>
<line x1="169.9" y1="467.3" x2="169.9" y2="469.90000000000003" stroke="#000" stroke-width="1.15"/>
<line x1="207.2" y1="467.3" x2="207.2" y2="469.90000000000003" stroke="#000" stroke-width="1.15"/>
<line x1="168.5" y1="476" x2="170.7" y2="476" stroke="#555" stroke-width="1.0"/>
<line x1="205.5" y1="476.3" x2="209.10000000000002" y2="476.3" stroke="#333" stroke-width="1.0"/>
<line x1="207.3" y1="474.5" x2="207.3" y2="478.1" stroke="#333" stroke-width="1.0"/>
<text x="157" y="361" font-size="8.3" text-anchor="start" font-weight="normal" fill="#222" stroke="#222" stroke-width="0.1" >n=7</text>
<text transform="translate(133.6,412.4) rotate(-90)" x="0" y="0" font-size="9.5" text-anchor="middle" fill="#111" stroke="#111" stroke-width="0.2" textLength="40.2" lengthAdjust="spacingAndGlyphs">miR-4269</text>
<text x="169.6" y="492.2" font-size="10" text-anchor="start" font-weight="normal" fill="#1a1a1a" stroke="#1a1a1a" stroke-width="0.25" textLength="36.9" lengthAdjust="spacingAndGlyphs">si HDAC1</text>
<line x1="157.2" y1="446.5" x2="182.6" y2="446.5" stroke="#000" stroke-width="1.0"/>
<circle cx="160.2" cy="446.5" r="1.8" fill="#b0b0b0" stroke="#000" stroke-width="1.2"/>
<circle cx="163.43333333333334" cy="446.5" r="1.8" fill="#b0b0b0" stroke="#000" stroke-width="1.2"/>
<circle cx="166.66666666666666" cy="446.5" r="1.8" fill="#b0b0b0" stroke="#000" stroke-width="1.2"/>
<circle cx="169.89999999999998" cy="446.5" r="1.8" fill="#b0b0b0" stroke="#000" stroke-width="1.2"/>
<circle cx="173.13333333333333" cy="446.5" r="1.8" fill="#b0b0b0" stroke="#000" stroke-width="1.2"/>
<circle cx="176.36666666666667" cy="446.5" r="1.8" fill="#b0b0b0" stroke="#000" stroke-width="1.2"/>
<circle cx="179.6" cy="446.5" r="1.8" fill="#b0b0b0" stroke="#000" stroke-width="1.2"/>
<line x1="207.3" y1="415" x2="207.3" y2="430.8" stroke="#000" stroke-width="1.2"/>
<line x1="194.6" y1="418.7" x2="219.6" y2="418.7" stroke="#000" stroke-width="1.2"/>
<line x1="202" y1="406.7" x2="213.8" y2="406.7" stroke="#000" stroke-width="1.2"/>
<line x1="201.3" y1="430.8" x2="213.8" y2="430.8" stroke="#000" stroke-width="1.2"/>
<circle cx="206.8" cy="368.1" r="1.8" fill="#888" stroke="#000" stroke-width="1.4"/>
<circle cx="206.8" cy="403.8" r="1.8" fill="#888" stroke="#000" stroke-width="1.4"/>
<circle cx="200.4" cy="419.2" r="1.8" fill="#888" stroke="#000" stroke-width="1.4"/>
<circle cx="214.2" cy="419.2" r="1.8" fill="#888" stroke="#000" stroke-width="1.4"/>
<circle cx="207.3" cy="421.5" r="1.8" fill="#888" stroke="#000" stroke-width="1.4"/>
<circle cx="207.3" cy="448.7" r="1.8" fill="#888" stroke="#000" stroke-width="1.4"/>
<circle cx="207.3" cy="459" r="1.8" fill="#888" stroke="#000" stroke-width="1.4"/>
<line x1="258.4" y1="352" x2="258.4" y2="385.7" stroke="#000" stroke-width="1.4"/>
<line x1="258.4" y1="394.4" x2="258.4" y2="467" stroke="#000" stroke-width="1.4"/>
<line x1="255.39999999999998" y1="355.2" x2="258.4" y2="355.2" stroke="#000" stroke-width="1.0"/>
<text transform="translate(252.2,358.15) scale(1.05,1)" x="0" y="0" font-size="8.3" text-anchor="end" font-weight="normal" fill="#222" stroke="#222" stroke-width="0.1" >8</text>
<line x1="255.39999999999998" y1="362.7" x2="258.4" y2="362.7" stroke="#000" stroke-width="1.0"/>
<text transform="translate(252.2,365.65) scale(1.05,1)" x="0" y="0" font-size="8.3" text-anchor="end" font-weight="normal" fill="#222" stroke="#222" stroke-width="0.1" >7</text>
<line x1="255.39999999999998" y1="370.1" x2="258.4" y2="370.1" stroke="#000" stroke-width="1.0"/>
<text transform="translate(252.2,373.05) scale(1.05,1)" x="0" y="0" font-size="8.3" text-anchor="end" font-weight="normal" fill="#222" stroke="#222" stroke-width="0.1" >6</text>
<line x1="255.39999999999998" y1="377.3" x2="258.4" y2="377.3" stroke="#000" stroke-width="1.0"/>
<text transform="translate(252.2,380.25) scale(1.05,1)" x="0" y="0" font-size="8.3" text-anchor="end" font-weight="normal" fill="#222" stroke="#222" stroke-width="0.1" >5</text>
<line x1="255.39999999999998" y1="385.7" x2="261.0" y2="385.7" stroke="#000" stroke-width="1.2"/>
<text transform="translate(252.2,388.65) scale(1.05,1)" x="0" y="0" font-size="8.3" text-anchor="end" font-weight="normal" fill="#222" stroke="#222" stroke-width="0.1" >4</text>
<line x1="257.4" y1="394.4" x2="261.0" y2="394.4" stroke="#000" stroke-width="1.2"/>
<line x1="255.39999999999998" y1="400.7" x2="258.4" y2="400.7" stroke="#000" stroke-width="1.0"/>
<text transform="translate(252.2,403.65) scale(1.05,1)" x="0" y="0" font-size="8.3" text-anchor="end" font-weight="normal" fill="#222" stroke="#222" stroke-width="0.1" >3</text>
<line x1="255.39999999999998" y1="422.8" x2="258.4" y2="422.8" stroke="#000" stroke-width="1.0"/>
<text transform="translate(252.2,425.75) scale(1.05,1)" x="0" y="0" font-size="8.3" text-anchor="end" font-weight="normal" fill="#222" stroke="#222" stroke-width="0.1" >2</text>
<line x1="255.39999999999998" y1="444.9" x2="258.4" y2="444.9" stroke="#000" stroke-width="1.0"/>
<text transform="translate(252.2,447.84999999999997) scale(1.05,1)" x="0" y="0" font-size="8.3" text-anchor="end" font-weight="normal" fill="#222" stroke="#222" stroke-width="0.1" >1</text>
<line x1="255.39999999999998" y1="467.0" x2="258.4" y2="467.0" stroke="#000" stroke-width="1.0"/>
<text transform="translate(252.2,469.95) scale(1.05,1)" x="0" y="0" font-size="8.3" text-anchor="end" font-weight="normal" fill="#222" stroke="#222" stroke-width="0.1" >0</text>
<line x1="255.4" y1="467" x2="332.6" y2="467" stroke="#000" stroke-width="1.4"/>
<line x1="278" y1="467" x2="278" y2="469.6" stroke="#000" stroke-width="1.15"/>
<line x1="314.6" y1="467" x2="314.6" y2="469.6" stroke="#000" stroke-width="1.15"/>
<line x1="276.9" y1="476" x2="279.1" y2="476" stroke="#555" stroke-width="1.0"/>
<line x1="312.8" y1="476.3" x2="316.40000000000003" y2="476.3" stroke="#333" stroke-width="1.0"/>
<line x1="314.6" y1="474.5" x2="314.6" y2="478.1" stroke="#333" stroke-width="1.0"/>
<text x="263.4" y="361.8" font-size="8.3" text-anchor="start" font-weight="normal" fill="#222" stroke="#222" stroke-width="0.1" >n=7</text>
<text transform="translate(241.7,410.8) rotate(-90)" x="0" y="0" font-size="9.5" text-anchor="middle" fill="#111" stroke="#111" stroke-width="0.2" textLength="55.4" lengthAdjust="spacingAndGlyphs">miR-4667-3p</text>
<line x1="264.7" y1="445.5" x2="289.6" y2="445.5" stroke="#000" stroke-width="1.0"/>
<circle cx="268.3" cy="445.5" r="1.8" fill="#b0b0b0" stroke="#000" stroke-width="1.2"/>
<circle cx="271.4166666666667" cy="445.5" r="1.8" fill="#b0b0b0" stroke="#000" stroke-width="1.2"/>
<circle cx="274.53333333333336" cy="445.5" r="1.8" fill="#b0b0b0" stroke="#000" stroke-width="1.2"/>
<circle cx="277.65" cy="445.5" r="1.8" fill="#b0b0b0" stroke="#000" stroke-width="1.2"/>
<circle cx="280.76666666666665" cy="445.5" r="1.8" fill="#b0b0b0" stroke="#000" stroke-width="1.2"/>
<circle cx="283.8833333333333" cy="445.5" r="1.8" fill="#b0b0b0" stroke="#000" stroke-width="1.2"/>
<circle cx="287.0" cy="445.5" r="1.8" fill="#b0b0b0" stroke="#000" stroke-width="1.2"/>
<line x1="314.6" y1="394.7" x2="314.6" y2="422.7" stroke="#000" stroke-width="1.2"/>
<line x1="302.2" y1="403.1" x2="327.8" y2="403.1" stroke="#000" stroke-width="1.2"/>
<line x1="309.4" y1="385.6" x2="321" y2="385.6" stroke="#000" stroke-width="1.2"/>
<line x1="308.6" y1="422.7" x2="321" y2="422.7" stroke="#000" stroke-width="1.2"/>
<circle cx="311.7" cy="370.8" r="1.8" fill="#888" stroke="#000" stroke-width="1.4"/>
<circle cx="318.7" cy="366.7" r="1.8" fill="#888" stroke="#000" stroke-width="1.4"/>
<circle cx="314.6" cy="399" r="1.8" fill="#888" stroke="#000" stroke-width="1.4"/>
<circle cx="311.7" cy="434.2" r="1.8" fill="#888" stroke="#000" stroke-width="1.4"/>
<circle cx="318.7" cy="434.2" r="1.8" fill="#888" stroke="#000" stroke-width="1.4"/>
<circle cx="314.6" cy="442.1" r="1.8" fill="#888" stroke="#000" stroke-width="1.4"/>
<circle cx="314.6" cy="449.8" r="1.8" fill="#888" stroke="#000" stroke-width="1.4"/>
<line x1="407.1" y1="354.5" x2="407.1" y2="467.3" stroke="#000" stroke-width="1.4"/>
<line x1="404.1" y1="365.8" x2="407.1" y2="365.8" stroke="#000" stroke-width="1.0"/>
<text transform="translate(400.90000000000003,368.75) scale(1.05,1)" x="0" y="0" font-size="8.3" text-anchor="end" font-weight="normal" fill="#222" stroke="#222" stroke-width="0.1" >1.0</text>
<line x1="404.1" y1="386.1" x2="407.1" y2="386.1" stroke="#000" stroke-width="1.0"/>
<text transform="translate(400.90000000000003,389.05) scale(1.05,1)" x="0" y="0" font-size="8.3" text-anchor="end" font-weight="normal" fill="#222" stroke="#222" stroke-width="0.1" >0.8</text>
<line x1="404.1" y1="406.40000000000003" x2="407.1" y2="406.40000000000003" stroke="#000" stroke-width="1.0"/>
<text transform="translate(400.90000000000003,409.35) scale(1.05,1)" x="0" y="0" font-size="8.3" text-anchor="end" font-weight="normal" fill="#222" stroke="#222" stroke-width="0.1" >0.6</text>
<line x1="404.1" y1="426.7" x2="407.1" y2="426.7" stroke="#000" stroke-width="1.0"/>
<text transform="translate(400.90000000000003,429.65) scale(1.05,1)" x="0" y="0" font-size="8.3" text-anchor="end" font-weight="normal" fill="#222" stroke="#222" stroke-width="0.1" >0.4</text>
<line x1="404.1" y1="447.0" x2="407.1" y2="447.0" stroke="#000" stroke-width="1.0"/>
<text transform="translate(400.90000000000003,449.95) scale(1.05,1)" x="0" y="0" font-size="8.3" text-anchor="end" font-weight="normal" fill="#222" stroke="#222" stroke-width="0.1" >0.2</text>
<line x1="404.1" y1="467.3" x2="407.1" y2="467.3" stroke="#000" stroke-width="1.0"/>
<text transform="translate(400.90000000000003,470.25) scale(1.05,1)" x="0" y="0" font-size="8.3" text-anchor="end" font-weight="normal" fill="#222" stroke="#222" stroke-width="0.1" >0.0</text>
<line x1="404.1" y1="467.3" x2="478.5" y2="467.3" stroke="#000" stroke-width="1.4"/>
<line x1="426" y1="467.3" x2="426" y2="469.90000000000003" stroke="#000" stroke-width="1.15"/>
<line x1="463.4" y1="467.3" x2="463.4" y2="469.90000000000003" stroke="#000" stroke-width="1.15"/>
<line x1="424.9" y1="475.7" x2="427.1" y2="475.7" stroke="#555" stroke-width="1.0"/>
<line x1="461.59999999999997" y1="476.0" x2="465.2" y2="476.0" stroke="#333" stroke-width="1.0"/>
<line x1="463.4" y1="474.2" x2="463.4" y2="477.8" stroke="#333" stroke-width="1.0"/>
<text x="410.8" y="358.2" font-size="8.3" text-anchor="start" font-weight="normal" fill="#222" stroke="#222" stroke-width="0.1" >n=9</text>
<polyline points="431.5,356 431.5,351.5 463.6,351.5 463.6,356" fill="none" stroke="#000" stroke-width="1"/>
<text x="446.2" y="350.2" font-size="8.5" text-anchor="start" font-weight="normal" fill="#000" stroke="#000" stroke-width="0.25" >*</text>
<text transform="translate(382.1,410.5) rotate(-90)" x="0" y="0" font-size="9.5" text-anchor="middle" fill="#111" stroke="#111" stroke-width="0.2" textLength="48.6" lengthAdjust="spacingAndGlyphs">BTK protein</text>
<text x="423.9" y="493.2" font-size="10" text-anchor="start" font-weight="normal" fill="#1a1a1a" stroke="#1a1a1a" stroke-width="0.25" textLength="36.9" lengthAdjust="spacingAndGlyphs">si HDAC1</text>
<line x1="413.4" y1="365.2" x2="438.4" y2="365.2" stroke="#000" stroke-width="1.0"/>
<circle cx="416.0" cy="365.2" r="1.8" fill="#b0b0b0" stroke="#000" stroke-width="1.2"/>
<circle cx="418.525" cy="365.2" r="1.8" fill="#b0b0b0" stroke="#000" stroke-width="1.2"/>
<circle cx="421.05" cy="365.2" r="1.8" fill="#b0b0b0" stroke="#000" stroke-width="1.2"/>
<circle cx="423.575" cy="365.2" r="1.8" fill="#b0b0b0" stroke="#000" stroke-width="1.2"/>
<circle cx="426.1" cy="365.2" r="1.8" fill="#b0b0b0" stroke="#000" stroke-width="1.2"/>
<circle cx="428.625" cy="365.2" r="1.8" fill="#b0b0b0" stroke="#000" stroke-width="1.2"/>
<circle cx="431.15" cy="365.2" r="1.8" fill="#b0b0b0" stroke="#000" stroke-width="1.2"/>
<circle cx="433.675" cy="365.2" r="1.8" fill="#b0b0b0" stroke="#000" stroke-width="1.2"/>
<circle cx="436.2" cy="365.2" r="1.8" fill="#b0b0b0" stroke="#000" stroke-width="1.2"/>
<line x1="463.4" y1="385.8" x2="463.4" y2="396.5" stroke="#000" stroke-width="1.2"/>
<line x1="451.1" y1="391.4" x2="475.9" y2="391.4" stroke="#000" stroke-width="1.2"/>
<line x1="457.5" y1="385.8" x2="469.5" y2="385.8" stroke="#000" stroke-width="1.2"/>
<line x1="457.5" y1="396.5" x2="469.5" y2="396.5" stroke="#000" stroke-width="1.2"/>
<circle cx="463.4" cy="365.1" r="1.8" fill="#aaa" stroke="#000" stroke-width="1.4"/>
<circle cx="463.4" cy="372.4" r="1.8" fill="#aaa" stroke="#000" stroke-width="1.4"/>
<circle cx="463.4" cy="385.5" r="1.8" fill="#aaa" stroke="#000" stroke-width="1.4"/>
<circle cx="473" cy="389.2" r="1.8" fill="#aaa" stroke="#000" stroke-width="1.4"/>
<circle cx="454" cy="396.2" r="1.8" fill="#aaa" stroke="#000" stroke-width="1.4"/>
<circle cx="460.2" cy="396.2" r="1.8" fill="#aaa" stroke="#000" stroke-width="1.4"/>
<circle cx="466.3" cy="396.2" r="1.8" fill="#aaa" stroke="#000" stroke-width="1.4"/>
<circle cx="463.4" cy="406.4" r="1.8" fill="#aaa" stroke="#000" stroke-width="1.4"/>
<circle cx="463.4" cy="415.2" r="1.8" fill="#aaa" stroke="#000" stroke-width="1.4"/>
<rect x="0.5" y="0.5" width="519" height="500" fill="none" stroke="#000" stroke-width="1.6"/>
</svg>
</body></html>
